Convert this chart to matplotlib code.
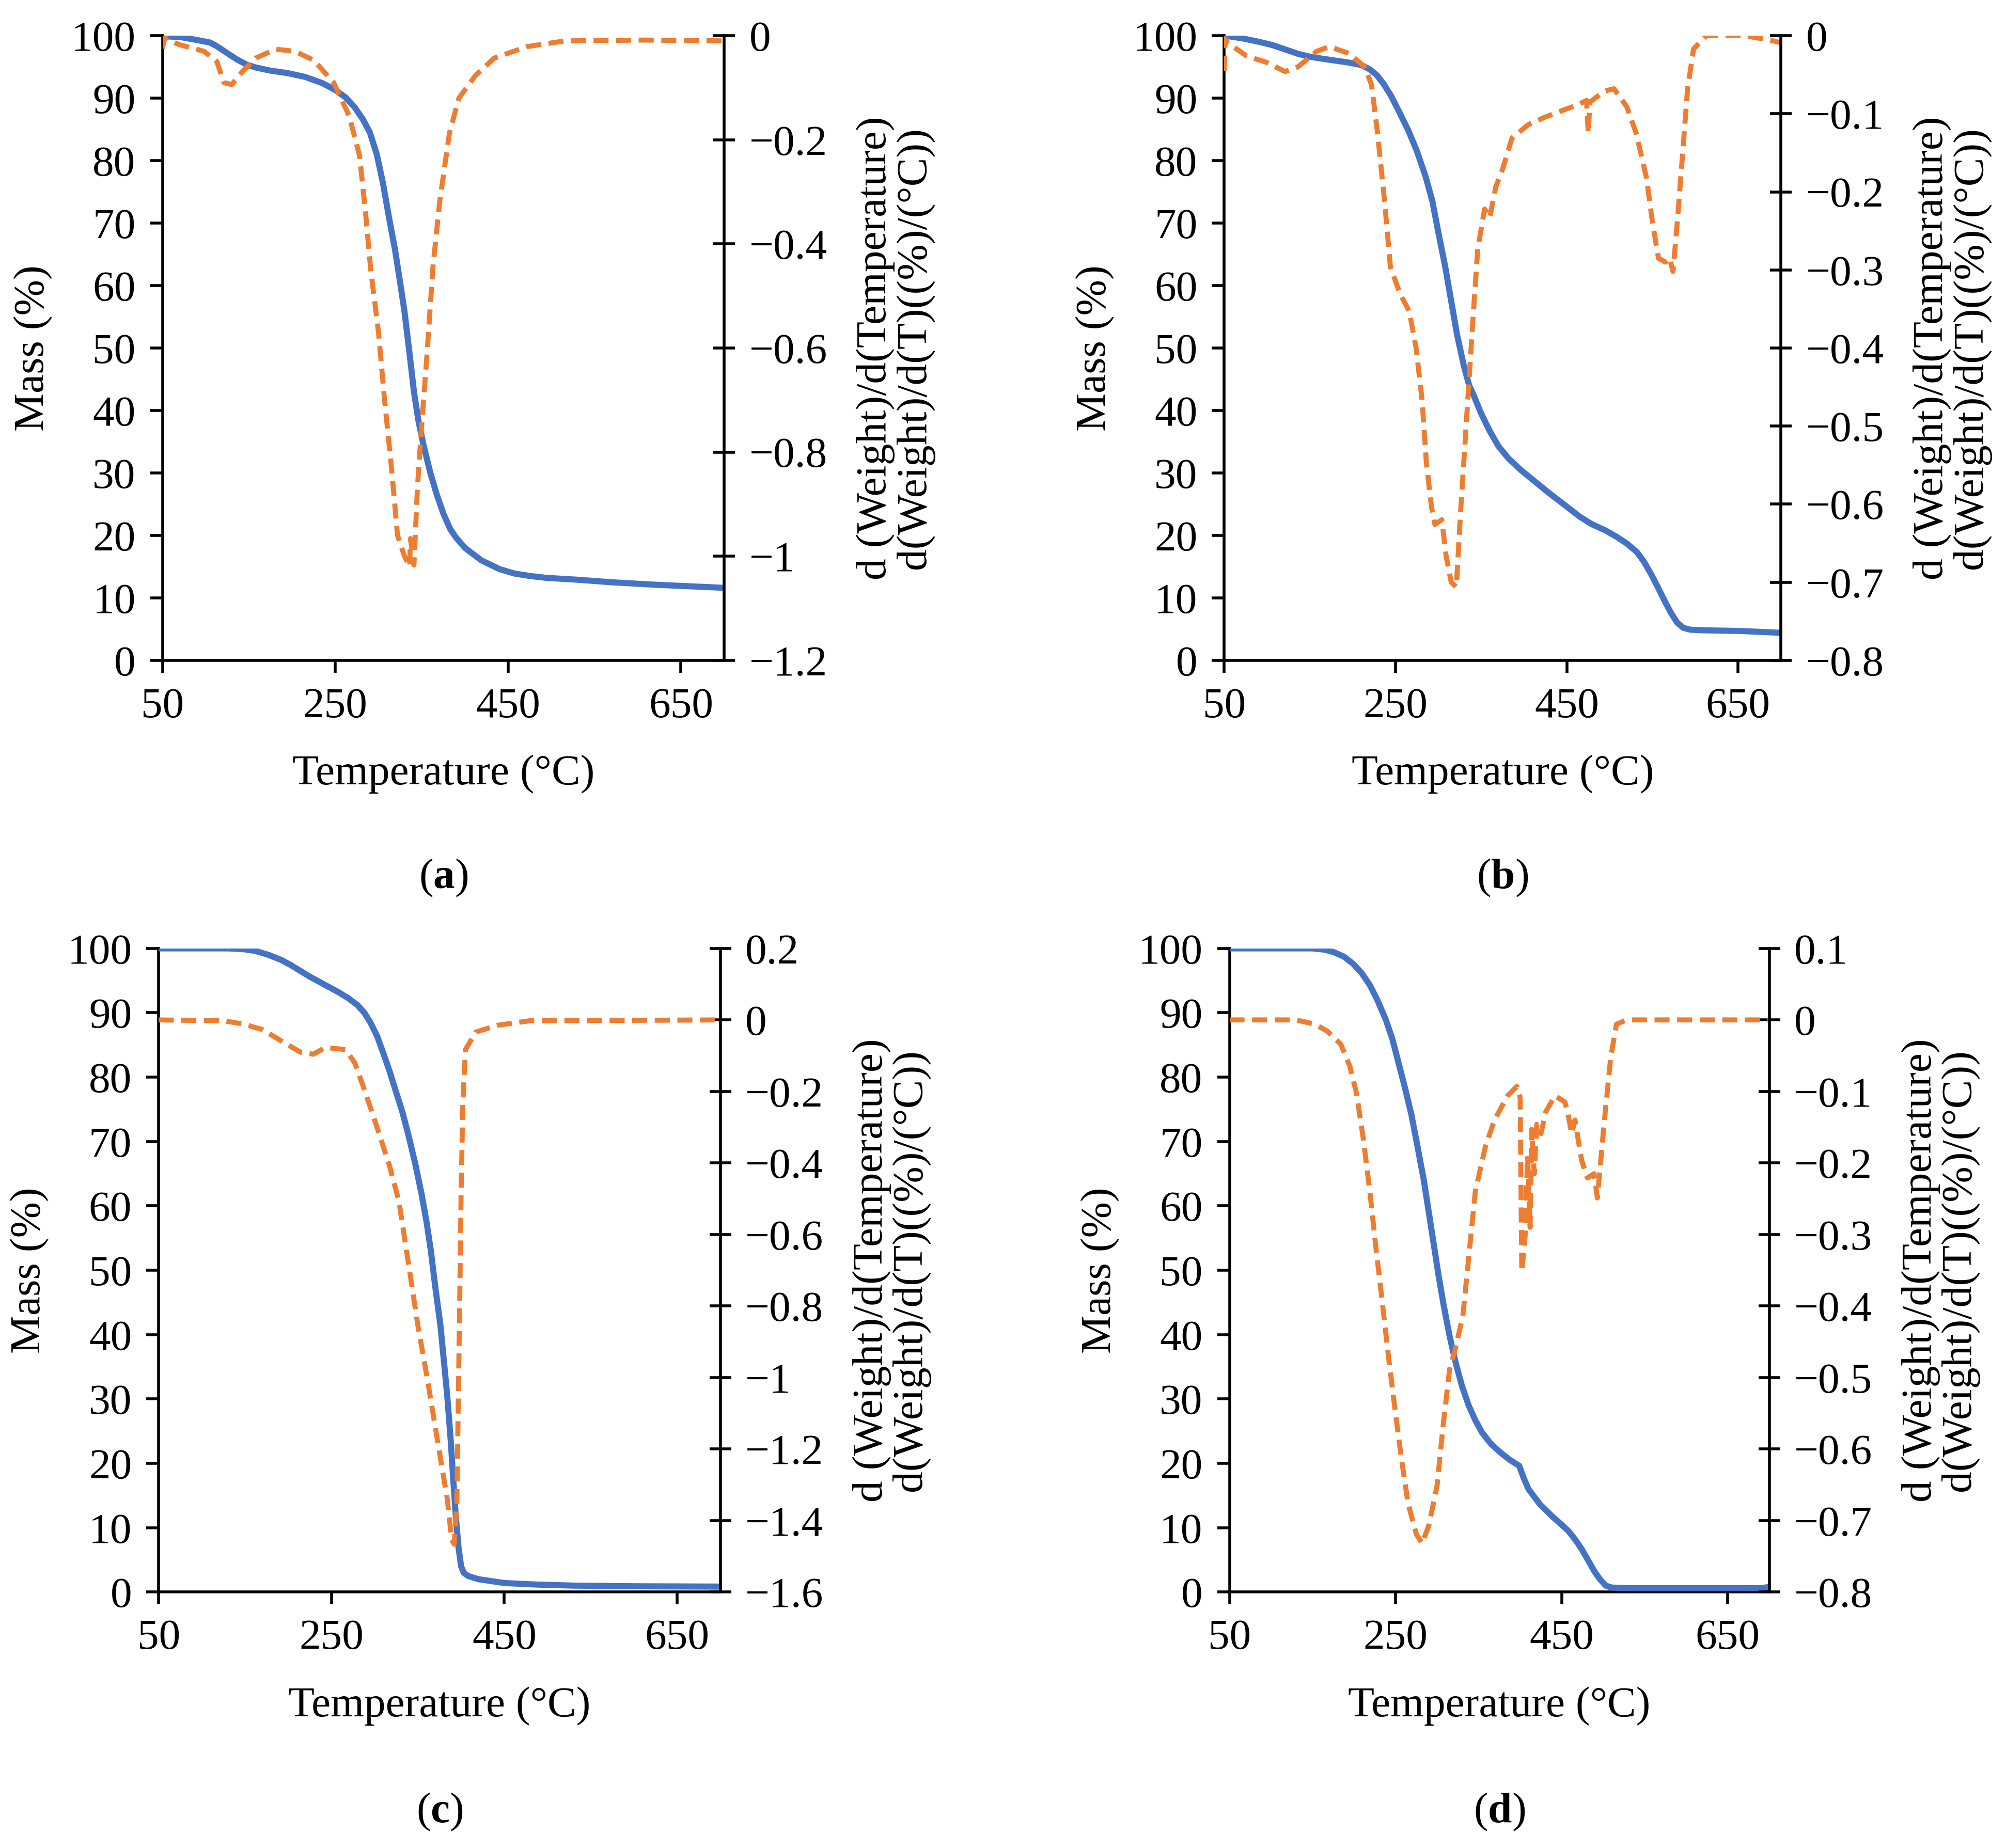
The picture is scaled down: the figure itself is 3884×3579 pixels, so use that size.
"""TGA / DTG curves for four samples, two-axis panels (a)-(d)."""

import matplotlib.pyplot as plt
import numpy as np

plt.rcParams["font.family"] = ["Liberation Serif", "DejaVu Serif"]
plt.rcParams["mathtext.fontset"] = "custom"
plt.rcParams["mathtext.rm"] = "Liberation Serif"
plt.rcParams["mathtext.bf"] = "Liberation Serif:bold"

BLUE = "#4472C4"
ORANGE = "#ED7D31"
FS = 24

# ---- panel (a) ----
a_mass_t = [50, 70, 90, 105, 113, 125, 136, 147, 158, 175, 195, 215, 235, 250, 262, 272,
            282, 290, 298, 305, 312, 319, 325, 330, 336, 341, 346, 352, 360, 367, 375,
            383, 390, 400, 419, 440, 457, 475, 494, 530, 569, 620, 700]
a_mass = [99.9, 99.8, 99.3, 98.9, 98.3, 97.2, 96.2, 95.4, 94.9, 94.4, 94.0, 93.4, 92.4,
          91.3, 90.1, 88.6, 86.6, 84.5, 81.0, 76.5, 71.0, 65.8, 60.5, 55.9, 49.0, 43.0,
          38.5, 34.5, 30.0, 26.7, 23.5, 21.0, 19.6, 18.0, 16.0, 14.6, 13.9, 13.5, 13.2,
          12.9, 12.5, 12.1, 11.6]
a_dtg_t = [50, 52, 69, 98, 113, 121, 130, 143, 158, 181, 203, 225, 248, 266, 278, 285,
           291, 300, 307, 315, 322, 330, 336, 337, 341, 345, 349, 356, 363, 371, 382,
           393, 412, 434, 472, 516, 606, 700]
a_dtg = [-0.025, -0.004, -0.017, -0.03, -0.05, -0.09, -0.094, -0.068, -0.043, -0.026,
         -0.03, -0.047, -0.09, -0.154, -0.23, -0.34, -0.45, -0.57, -0.70, -0.83, -0.96,
         -1.00, -1.02, -0.966, -1.017, -0.87, -0.77, -0.615, -0.444, -0.316, -0.188,
         -0.12, -0.077, -0.043, -0.021, -0.010, -0.0085, -0.01]

# ---- panel (b) ----
b_mass_t = [50, 70, 91, 106, 121, 136, 151, 165, 180, 195, 210, 220, 228, 236, 245, 255,
            265, 275, 285, 293, 300, 308, 315, 322, 330, 336, 341, 350, 360, 370, 382,
            396, 412, 430, 449, 465, 479, 495, 509, 520, 532, 540, 548, 557, 565, 572,
            579, 586, 594, 610, 651, 700]
b_mass = [100, 99.6, 99.0, 98.5, 97.8, 97.1, 96.6, 96.3, 96.0, 95.7, 95.3, 94.6, 93.7,
          92.3, 90.3, 87.6, 84.8, 81.5, 77.5, 73.5, 68.5, 63.0, 57.5, 52.0, 47.0, 44.0,
          42.5, 39.5, 36.7, 34.3, 32.3, 30.5, 28.7, 26.7, 24.7, 23.0, 21.8, 20.8, 19.7,
          18.7, 17.3, 15.8, 13.9, 11.5, 9.3, 7.5, 6.0, 5.2, 4.9, 4.8, 4.7, 4.4]
b_dtg_t = [50, 51, 54, 76, 99, 121, 136, 158, 173, 196, 214, 222, 229, 237, 244, 255,
           266, 274, 281, 286, 292, 296, 304, 309, 315, 321, 326, 331, 336, 341, 346,
           354, 360, 367, 375, 386, 405, 423, 442, 464, 473, 475, 477, 494, 505, 520,
           531, 543, 550, 557, 565, 570, 574, 579, 585, 591, 598, 613, 658, 688, 700]
b_dtg = [-0.045, -0.004, -0.009, -0.026, -0.034, -0.046, -0.04, -0.02, -0.014, -0.023,
         -0.04, -0.063, -0.125, -0.21, -0.296, -0.33, -0.353, -0.40, -0.467, -0.547,
         -0.604, -0.626, -0.62, -0.666, -0.70, -0.706, -0.609, -0.524, -0.438, -0.353,
         -0.273, -0.222, -0.233, -0.194, -0.171, -0.131, -0.114, -0.105, -0.097, -0.088,
         -0.083, -0.125, -0.085, -0.071, -0.068, -0.091, -0.125, -0.182, -0.239, -0.285,
         -0.29, -0.285, -0.302, -0.239, -0.154, -0.068, -0.017, 0.0, 0.0, -0.006, -0.009]

# ---- panel (c) ----
c_mass_t = [50, 130, 147, 162, 177, 192, 203, 214, 225, 236, 247, 258, 269, 280, 288,
            295, 303, 310, 317, 324, 332, 339, 347, 354, 360, 365, 370, 376, 380, 384,
            388, 391, 394, 397, 400, 403, 408, 420, 435, 450, 490, 531, 600, 700]
c_mass = [100, 100, 99.9, 99.6, 99.0, 98.2, 97.4, 96.5, 95.6, 94.8, 94.0, 93.2, 92.3,
          91.2, 90.0, 88.5, 86.3, 83.7, 81.0, 78.0, 74.6, 71.0, 66.5, 62.0, 57.5, 53.0,
          47.5, 41.5, 36.0, 30.4, 23.5, 17.3, 11.5, 6.9, 4.0, 3.0, 2.5, 2.0, 1.7, 1.4,
          1.15, 1.0, 0.9, 0.85]
c_dtg_t = [50, 125, 147, 170, 192, 214, 229, 243, 266, 277, 288, 302, 317, 328, 339,
           350, 361, 372, 384, 389, 392, 395, 398, 400, 402, 405, 417, 442, 479, 700]
c_dtg = [0.0, -0.0025, -0.011, -0.027, -0.059, -0.09, -0.096, -0.077, -0.083, -0.12,
         -0.195, -0.295, -0.407, -0.507, -0.68, -0.855, -1.005, -1.167, -1.34, -1.453,
         -1.466, -1.354, -0.855, -0.482, -0.233, -0.083, -0.034, -0.015, -0.0025, 0.0]

# ---- panel (d) ----
d_mass_t = [50, 150, 165, 176, 188, 199, 209, 219, 228, 238, 246, 253, 261, 269, 276,
            284, 290, 296, 302, 308, 315, 323, 330, 338, 346, 354, 365, 377, 388, 399,
            404, 410, 417, 424, 432, 439, 448, 458, 466, 474, 482, 489, 496, 503, 510,
            530, 690, 700]
d_mass = [100, 100, 99.8, 99.4, 98.7, 97.6, 96.2, 94.3, 92.0, 89.0, 86.0, 82.5, 78.5,
          74.2, 69.5, 64.0, 59.0, 54.0, 49.0, 44.5, 39.8, 35.3, 32.0, 29.0, 26.7, 24.8,
          23.0, 21.6, 20.5, 19.6, 17.8, 16.0, 14.8, 13.6, 12.6, 11.7, 10.7, 9.5, 8.2,
          6.7, 4.9, 3.3, 2.0, 1.0, 0.7, 0.6, 0.6, 0.8]
d_dtg_t = [50, 130, 153, 168, 184, 195, 203, 211, 219, 226, 234, 242, 250, 257, 265,
           275, 282, 290, 300, 307, 315, 321, 331, 338, 346, 358, 369, 385, 396, 400,
           402, 406, 409, 412, 414, 417, 420, 425, 431, 442, 454, 458, 462, 466, 474,
           481, 489, 493, 501, 509, 516, 528, 700]
d_dtg = [0.0, 0.0, -0.006, -0.016, -0.034, -0.065, -0.103, -0.165, -0.24, -0.315,
         -0.395, -0.476, -0.551, -0.613, -0.676, -0.719, -0.732, -0.707, -0.651, -0.57,
         -0.489, -0.464, -0.414, -0.333, -0.24, -0.178, -0.14, -0.106, -0.093, -0.109,
         -0.352, -0.302, -0.19, -0.29, -0.153, -0.215, -0.146, -0.159, -0.128, -0.106,
         -0.115, -0.134, -0.159, -0.14, -0.196, -0.221, -0.215, -0.249, -0.146, -0.053,
         -0.006, 0.0, 0.0]

panels = [
    ("a", [0.081, 0.6427, 0.280, 0.338], a_mass_t, a_mass, a_dtg_t, a_dtg, (-1.2, 0.0), 0.2),
    ("b", [0.6103, 0.6427, 0.2775, 0.338], b_mass_t, b_mass, b_dtg_t, b_dtg, (-0.8, 0.0), 0.1),
    ("c", [0.0791, 0.1385, 0.280, 0.3483], c_mass_t, c_mass, c_dtg_t, c_dtg, (-1.6, 0.2), 0.2),
    ("d", [0.6129, 0.1385, 0.2691, 0.3483], d_mass_t, d_mass, d_dtg_t, d_dtg, (-0.8, 0.1), 0.1),
]


def fmt_dtg(v):
    v = round(v, 1)
    if abs(v) < 1e-9:
        return "0"
    s = f"{abs(v):.1f}".rstrip("0").rstrip(".")
    return ("\u2212" + s) if v < 0 else s


fig = plt.figure(figsize=(15.536, 14.316), dpi=250)

for tag, rect, mt, m, dt, d, ylim2, step in panels:
    ax = fig.add_axes(rect)
    ax.plot(mt, m, color=BLUE, lw=3.4, solid_joinstyle="round", solid_capstyle="round", zorder=3)
    ax.set_xlim(50, 700)
    ax.set_ylim(0, 100)
    ax.set_xticks([50, 250, 450, 650])
    ax.set_yticks(np.arange(0, 101, 10))
    ax.spines["top"].set_visible(False)
    ax.spines["right"].set_visible(False)
    for s in ("left", "bottom"):
        ax.spines[s].set_linewidth(1.6)
    ax.tick_params(direction="out", length=7, width=1.6, labelsize=FS, pad=8)
    ax.set_xlabel("Temperature (°C)", fontsize=FS, labelpad=16)
    ax.set_ylabel("Mass (%)", fontsize=FS, labelpad=10)

    ax2 = ax.twinx()
    ax2.plot(dt, d, color=ORANGE, lw=2.8, dashes=(3.0, 1.5), zorder=2)
    ax2.set_ylim(*ylim2)
    ticks = np.arange(ylim2[1], ylim2[0] - step / 2, -step)
    ax2.set_yticks(ticks)
    ax2.set_yticklabels([fmt_dtg(t) for t in ticks])
    for s in ("top", "left", "bottom"):
        ax2.spines[s].set_visible(False)
    ax2.spines["right"].set_linewidth(1.6)
    ax2.tick_params(direction="inout", length=12, width=1.6, labelsize=FS, pad=8)
    ax2.set_ylabel("d (Weight)/d(Temperature)\nd(Weight)/d(T)((%)/(°C))",
                   fontsize=FS, labelpad=16, linespacing=1.0)

    cx = rect[0] + rect[2] / 2
    cy = 0.525 if tag in ("a", "b") else 0.0194
    fig.text(cx, cy, rf"($\mathbf{{{tag}}}$)", fontsize=FS, ha="center", va="center")

fig.savefig("out.png", dpi=250)
